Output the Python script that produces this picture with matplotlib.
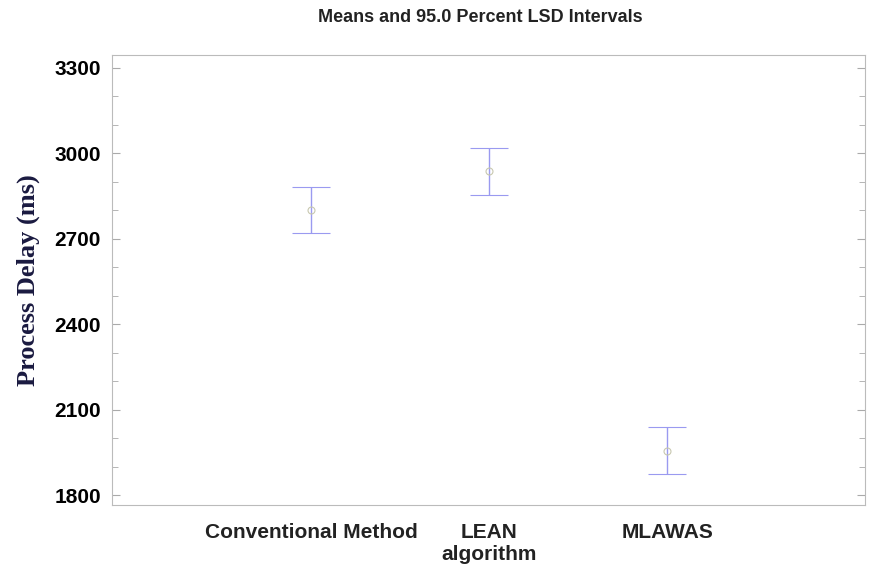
import numpy as np
import matplotlib.pyplot as plt
from matplotlib.ticker import MultipleLocator

categories = ["Conventional Method", "LEAN\nalgorithm", "MLAWAS"]
means = [2801, 2938, 1955]
upper = [2882, 3019, 2039]
lower = [2720, 2854, 1874]

fig = plt.figure(figsize=(8.74, 5.81), dpi=100)
ax = fig.add_axes([112 / 874, 1 - 505 / 581, (865 - 112) / 874, (505 - 55) / 581])

x = np.arange(len(categories))
m = np.array(means)
err = [m - np.array(lower), np.array(upper) - m]
ax.errorbar(x, m, yerr=err, fmt='o', ms=5, mfc='none', mec='#c8c8b0', mew=0.8,
            ecolor='#9a9af0', elinewidth=1, capsize=14, capthick=1)

ax.set_xlim(-1.12, 3.11)
ax.set_ylim(1765, 3345)
ax.set_xticks(x)
ax.set_xticklabels(categories, fontsize=15, fontweight='bold', family='Liberation Sans',
                   color='#222222')
ax.tick_params(axis='x', length=0, pad=13)
ax.yaxis.set_major_locator(MultipleLocator(300))
ax.yaxis.set_minor_locator(MultipleLocator(100))
ax.tick_params(axis='y', which='both', direction='in', right=True, color='#aaaaaa',
               labelsize=15, pad=8)
ax.tick_params(axis='y', which='major', length=6)
ax.tick_params(axis='y', which='minor', length=4)
for lab in ax.get_yticklabels():
    lab.set_fontweight('bold')
    lab.set_family('Liberation Sans')
for s in ax.spines.values():
    s.set_color('#bbbbbb')

ax.set_ylabel("Process Delay (ms)", fontsize=19, fontweight='bold',
              family='Liberation Serif', color='#1a1a40', labelpad=10)
fig.suptitle("Means and 95.0 Percent LSD Intervals", x=0.55, y=0.985, fontsize=13,
             fontweight='bold', family='Liberation Sans', color='#222222')

fig.savefig("out.png", dpi=100)
